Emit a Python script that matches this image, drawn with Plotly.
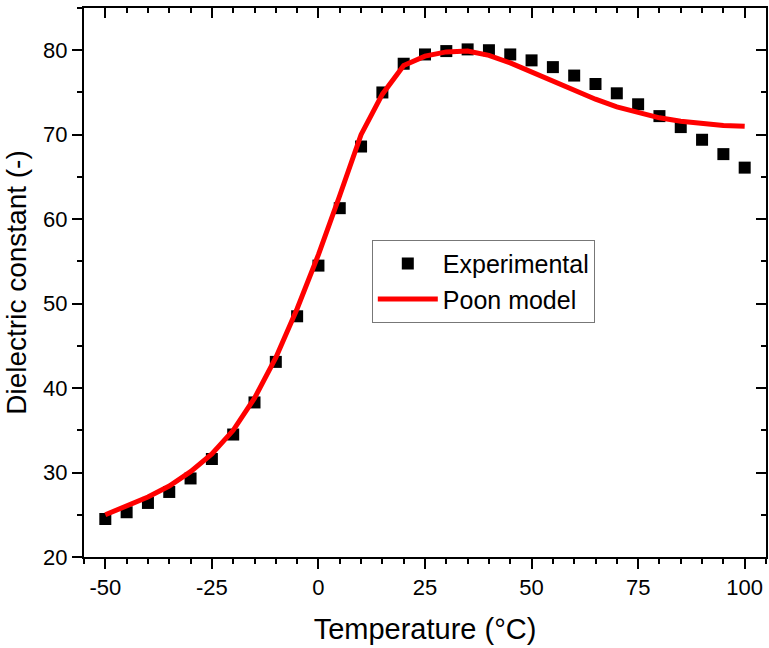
import plotly.graph_objects as go

temps = [-50, -45, -40, -35, -30, -25, -20, -15, -10, -5, 0, 5, 10, 15, 20, 25, 30,
         35, 40, 45, 50, 55, 60, 65, 70, 75, 80, 85, 90, 95, 100]
experimental = [24.5, 25.3, 26.4, 27.7, 29.3, 31.6, 34.5, 38.3, 43.1, 48.5, 54.5, 61.3,
                68.6, 75.0, 78.4, 79.5, 79.9, 80.1, 80.0, 79.5, 78.8, 78.0, 77.0, 76.0,
                74.9, 73.6, 72.2, 70.9, 69.4, 67.7, 66.1]
poon_model = [25.0, 26.0, 27.1, 28.4, 30.1, 32.2, 35.0, 38.8, 43.6, 49.4, 55.8, 62.8,
              70.0, 74.8, 78.2, 79.3, 79.8, 79.9, 79.4, 78.5, 77.4, 76.3, 75.2, 74.2,
              73.3, 72.6, 72.0, 71.6, 71.3, 71.1, 71.0]

x_ticks = [-50, -25, 0, 25, 50, 75, 100]
x_ticklabels = ["-50", "-25", "0", "25", "50", "75", "100"]
y_ticks = [20, 30, 40, 50, 60, 70, 80]
y_ticklabels = ["20", "30", "40", "50", "60", "70", "80"]

x_range = [-55, 105]
y_range = [20, 85]
font_family = "Arial, Liberation Sans, Arimo, sans-serif"
clear = "rgba(0,0,0,0)"

fig = go.Figure()
fig.add_trace(go.Scatter(
    x=temps, y=experimental, mode="markers", name="Experimental",
    marker=dict(symbol="square", size=12, color="black", line=dict(width=0))))
fig.add_trace(go.Scatter(
    x=temps, y=poon_model, mode="lines", name="Poon model",
    line=dict(color="#ff0000", width=5)))
# transparent helper trace so the mirrored inside-tick axes (top/right) are drawn
fig.add_trace(go.Scatter(x=x_range, y=y_range, xaxis="x2", yaxis="y2",
                         mode="lines", line=dict(color=clear, width=1),
                         showlegend=False, hoverinfo="skip"))

fig.update_layout(
    width=769, height=648,
    margin=dict(l=84, r=3, t=8, b=91, autoexpand=False),
    paper_bgcolor="white", plot_bgcolor="white",
    font=dict(family=font_family, color="black"),
    showlegend=True,
    legend=dict(x=0.422, y=0.578, xanchor="left", yanchor="top",
                bgcolor="white", bordercolor="#777777", borderwidth=1,
                font=dict(size=25, family=font_family), tracegroupgap=0,
                itemwidth=60),
    xaxis=dict(range=x_range, tickvals=x_ticks, ticktext=x_ticklabels,
               ticks="outside", ticklen=10, tickcolor="black", tickwidth=2,
               showline=True, mirror=True, linecolor="black", linewidth=2,
               showgrid=False, zeroline=False, automargin=False,
               tickfont=dict(size=22),
               minor=dict(dtick=5, tick0=0, ticks="outside", ticklen=5,
                          tickcolor="black", tickwidth=2),
               title=dict(text="Temperature (°C)", font=dict(size=29), standoff=19)),
    yaxis=dict(range=y_range, tickvals=y_ticks, ticktext=y_ticklabels,
               ticks="outside", ticklen=10, tickcolor="black", tickwidth=2,
               showline=True, mirror=True, linecolor="black", linewidth=2,
               showgrid=False, zeroline=False, automargin=False,
               tickfont=dict(size=22),
               minor=dict(dtick=5, tick0=0, ticks="outside", ticklen=5,
                          tickcolor="black", tickwidth=2),
               title=dict(text="Dielectric constant (-)", font=dict(size=28), standoff=8)),
    xaxis2=dict(range=x_range, overlaying="x", side="top", automargin=False,
                tickvals=x_ticks, ticktext=[""] * len(x_ticks),
                ticks="inside", ticklen=10, tickcolor="black", tickwidth=2,
                showticklabels=True, tickfont=dict(size=6),
                showgrid=False, zeroline=False,
                minor=dict(dtick=5, tick0=0, ticks="inside", ticklen=5,
                           tickcolor="black", tickwidth=2)),
    yaxis2=dict(range=y_range, overlaying="y", side="right", automargin=False,
                tickvals=y_ticks, ticktext=[""] * len(y_ticks),
                ticks="inside", ticklen=10, tickcolor="black", tickwidth=2,
                showticklabels=True, tickfont=dict(size=6),
                showgrid=False, zeroline=False,
                minor=dict(dtick=5, tick0=0, ticks="inside", ticklen=5,
                           tickcolor="black", tickwidth=2)),
)

fig.write_html("out.html")
